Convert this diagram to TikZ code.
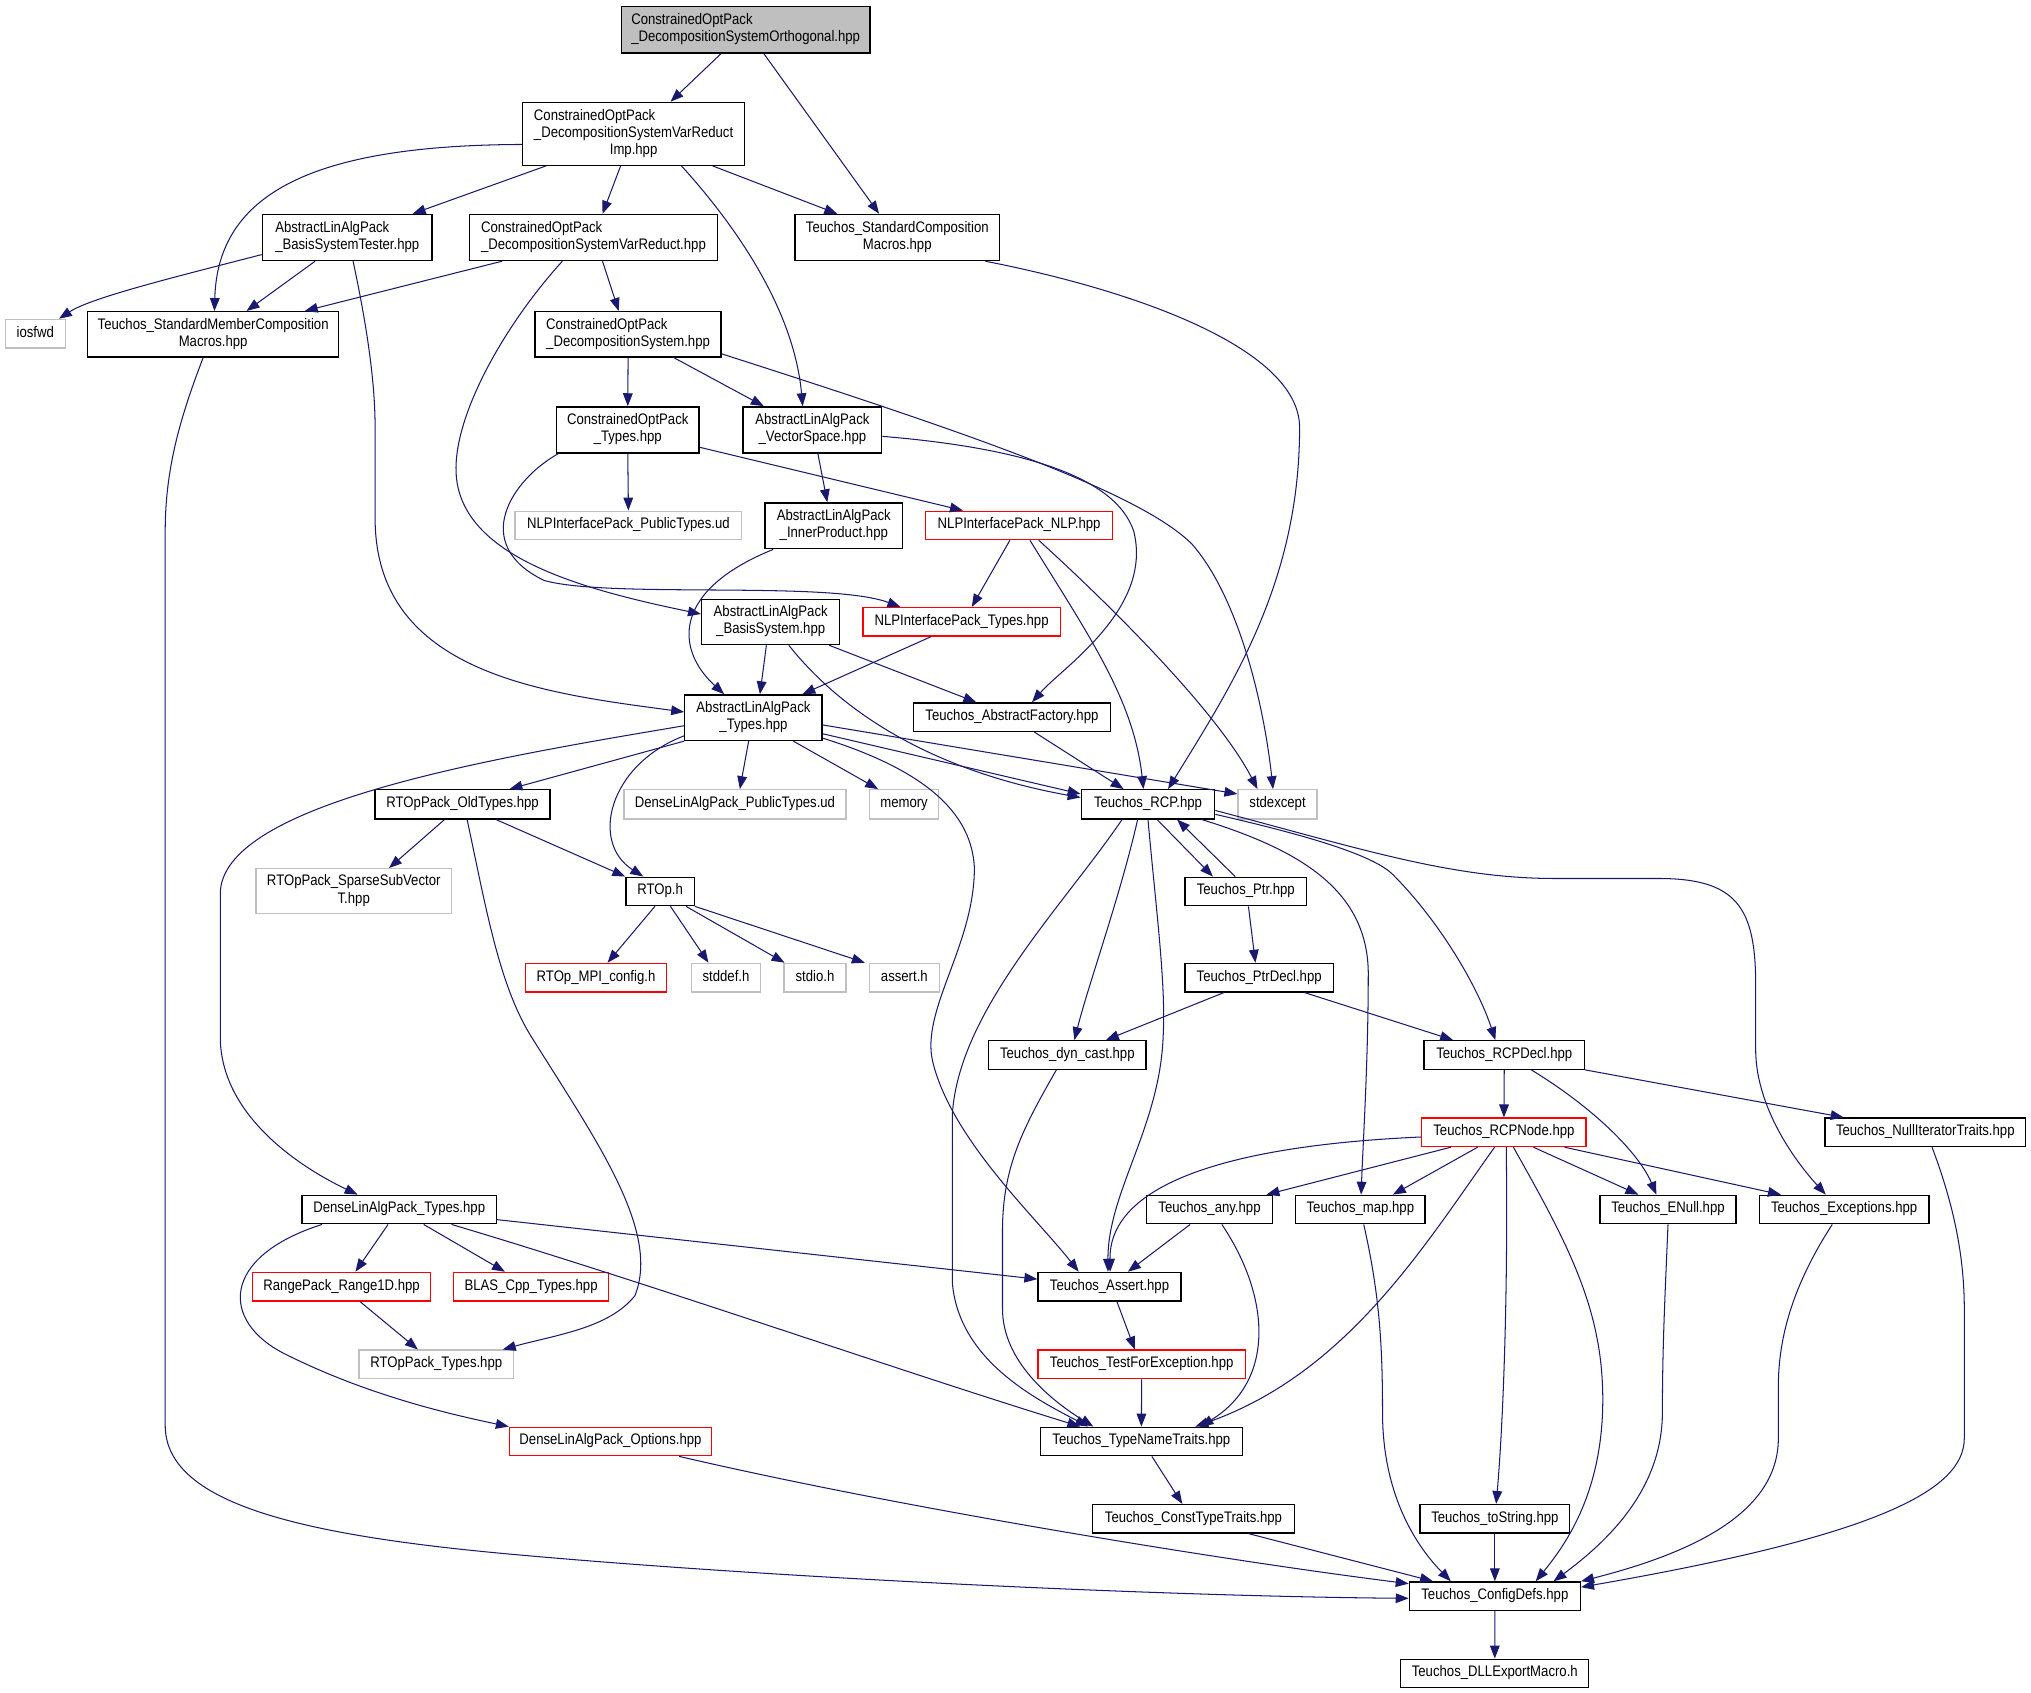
\documentclass[tikz,border=0pt]{standalone}
\usepackage{fontspec}
\setmainfont{Liberation Sans}[FakeStretch=0.86]
\usetikzlibrary{arrows.meta}
\definecolor{edgec}{RGB}{25,25,112}
\definecolor{grayb}{RGB}{192,192,192}
\definecolor{topfill}{RGB}{191,191,191}
\newcommand\twol[2]{\begin{tabular}{@{}l@{}}#1\\\multicolumn{1}{@{}c@{}}{#2}\end{tabular}}
\newcommand\threel[3]{\begin{tabular}{@{}l@{}}#1\\#2\\\multicolumn{1}{@{}c@{}}{#3}\end{tabular}}
\begin{document}
\begin{tikzpicture}[x=1pt,y=-1pt,
  font=\fontsize{11.8pt}{13.2pt}\selectfont,
  bx/.style={draw=black,fill=white,line width=1pt,inner sep=0pt,anchor=north west},
  oneline/.style={text height=9.24pt,text depth=3.96pt,minimum height=22pt},
  gbx/.style={bx,draw=grayb},
  rbx/.style={bx,draw=red},
  topbx/.style={bx,fill=topfill},
  edg/.style={draw=edgec,line width=0.8pt,-{Triangle[length=10pt,width=7.5pt]}}]
\fill[white] (0,0) rectangle (1567.5,1306.6);
\useasboundingbox (0,0) rectangle (1567.5,1306.6);
% nodes
\node[topbx,minimum width=192,minimum height=35.8] (orth) at (479,4.6) {\twol{ConstrainedOptPack}{\_DecompositionSystemOrthogonal.hpp}};
\node[bx,minimum width=171,minimum height=48.5] (vri) at (403,78.5) {\threel{ConstrainedOptPack}{\_DecompositionSystemVarReduct}{Imp.hpp}};
\node[bx,minimum width=131,minimum height=35.6] (bst) at (202,165) {\twol{AbstractLinAlgPack}{\_BasisSystemTester.hpp}};
\node[bx,minimum width=191,minimum height=35.6] (vr) at (362,165) {\twol{ConstrainedOptPack}{\_DecompositionSystemVarReduct.hpp}};
\node[bx,minimum width=158,minimum height=35.6] (stdcomp) at (613,165) {\twol{Teuchos\_StandardComposition}{Macros.hpp}};
\node[gbx,oneline,minimum width=46.5] (iosfwd) at (3.5,246) {iosfwd};
\node[bx,minimum width=194,minimum height=35] (smc) at (67,240) {\twol{Teuchos\_StandardMemberComposition}{Macros.hpp}};
\node[bx,minimum width=143.5,minimum height=35] (ds) at (412.5,240) {\twol{ConstrainedOptPack}{\_DecompositionSystem.hpp}};
\node[bx,minimum width=110,minimum height=35.5] (copt) at (429,313.5) {\twol{ConstrainedOptPack}{\_Types.hpp}};
\node[bx,minimum width=107,minimum height=35.5] (vs) at (573,313.5) {\twol{AbstractLinAlgPack}{\_VectorSpace.hpp}};
\node[gbx,oneline,minimum width=175] (nlppt) at (397,394) {NLPInterfacePack\_PublicTypes.ud};
\node[bx,minimum width=106,minimum height=35.4] (ip) at (590,387.6) {\twol{AbstractLinAlgPack}{\_InnerProduct.hpp}};
\node[rbx,oneline,minimum width=144] (nlp) at (714,394) {NLPInterfacePack\_NLP.hpp};
\node[bx,minimum width=106.6,minimum height=35] (bs) at (541,462) {\twol{AbstractLinAlgPack}{\_BasisSystem.hpp}};
\node[rbx,oneline,minimum width=152.3] (nlpt) at (665.5,468.4) {NLPInterfacePack\_Types.hpp};
\node[bx,minimum width=106,minimum height=35.2] (alapt) at (528,535.8) {\twol{AbstractLinAlgPack}{\_Types.hpp}};
\node[bx,oneline,minimum width=152] (af) at (704.5,542) {Teuchos\_AbstractFactory.hpp};
\node[bx,oneline,minimum width=103,minimum height=22.5] (rcp) at (834,609) {Teuchos\_RCP.hpp};
\node[gbx,oneline,minimum width=61,minimum height=22.5] (stdexc) at (955,609) {stdexcept};
\node[gbx,oneline,minimum width=53.5,minimum height=22.5] (memory) at (670.5,609) {memory};
\node[gbx,oneline,minimum width=171.4,minimum height=22.5] (dlppt) at (481,609) {DenseLinAlgPack\_PublicTypes.ud};
\node[bx,oneline,minimum width=135,minimum height=22.5] (rtopold) at (289,609) {RTOpPack\_OldTypes.hpp};
\node[bx,oneline,minimum width=52.7] (rtoph) at (482.6,676.5) {RTOp.h};
\node[gbx,minimum width=151,minimum height=34.5] (ssv) at (197,670) {\twol{RTOpPack\_SparseSubVector}{T.hpp}};
\node[bx,oneline,minimum width=94] (ptr) at (914,676.5) {Teuchos\_Ptr.hpp};
\node[rbx,oneline,minimum width=109] (mpi) at (405,743) {RTOp\_MPI\_config.h};
\node[gbx,oneline,minimum width=53.6] (stddef) at (533,743) {stddef.h};
\node[gbx,oneline,minimum width=47.8] (stdio) at (604.6,743) {stdio.h};
\node[gbx,oneline,minimum width=53.9] (asserth) at (670.5,743) {assert.h};
\node[bx,oneline,minimum width=114.6] (ptrdecl) at (914,743) {Teuchos\_PtrDecl.hpp};
\node[bx,oneline,minimum width=121.5] (dyncast) at (762.5,802.7) {Teuchos\_dyn\_cast.hpp};
\node[bx,oneline,minimum width=123.7] (rcpdecl) at (1098.6,802.7) {Teuchos\_RCPDecl.hpp};
\node[rbx,oneline,minimum width=126.8] (rcpnode) at (1096.8,862.4) {Teuchos\_RCPNode.hpp};
\node[bx,oneline,minimum width=155] (nullit) at (1407.9,862.4) {Teuchos\_NullIteratorTraits.hpp};
\node[bx,oneline,minimum width=150.2] (dlpt) at (232.5,922) {DenseLinAlgPack\_Types.hpp};
\node[bx,oneline,minimum width=96.8] (any) at (884.6,922) {Teuchos\_any.hpp};
\node[bx,oneline,minimum width=99.6] (map) at (999.6,922) {Teuchos\_map.hpp};
\node[bx,oneline,minimum width=105.1] (enull) at (1234.3,922) {Teuchos\_ENull.hpp};
\node[bx,oneline,minimum width=130.9] (exc) at (1357.3,922) {Teuchos\_Exceptions.hpp};
\node[rbx,oneline,minimum width=137.1] (range) at (194.6,981.5) {RangePack\_Range1D.hpp};
\node[rbx,oneline,minimum width=119.6] (blas) at (349.6,981.5) {BLAS\_Cpp\_Types.hpp};
\node[bx,oneline,minimum width=110.4] (tassert) at (800.6,981.5) {Teuchos\_Assert.hpp};
\node[gbx,oneline,minimum width=119.2] (rtoptypes) at (276.6,1041.5) {RTOpPack\_Types.hpp};
\node[rbx,oneline,minimum width=160] (tfe) at (800.6,1041.5) {Teuchos\_TestForException.hpp};
\node[rbx,oneline,minimum width=155.9] (opts) at (392.7,1101) {DenseLinAlgPack\_Options.hpp};
\node[bx,oneline,minimum width=155.6] (tnt) at (802.6,1101) {Teuchos\_TypeNameTraits.hpp};
\node[bx,oneline,minimum width=155.6] (ctt) at (842.8,1160.7) {Teuchos\_ConstTypeTraits.hpp};
\node[bx,oneline,minimum width=115.4] (tostr) at (1095.5,1160.7) {Teuchos\_toString.hpp};
\node[bx,oneline,minimum width=132] (cfg) at (1087.2,1220.4) {Teuchos\_ConfigDefs.hpp};
\node[bx,oneline,minimum width=145.1] (dll) at (1080.6,1280) {Teuchos\_DLLExportMacro.h};
% edges
\draw[edg] ([xshift=-19pt]orth.south) -- ([xshift=28.5pt]vri.north);
\draw[edg] ([xshift=14pt]orth.south) -- ([xshift=-14pt]stdcomp.north);
\draw[edg] ([yshift=-8.25pt]vri.west) .. controls (240,112) and (168,150) .. ([xshift=1pt]smc.north);
\draw[edg] ([xshift=-67.5pt]vri.south) -- ([xshift=50.5pt]bst.north);
\draw[edg] ([xshift=-10pt]vri.south) -- ([xshift=7pt]vr.north);
\draw[edg] ([xshift=36.9pt]vri.south) .. controls (555,160) and (612,230) .. ([xshift=-7.5pt]vs.north);
\draw[edg] ([xshift=60.9pt]vri.south) -- ([xshift=-46.3pt]stdcomp.north);
\draw[edg] ([xshift=68pt]stdcomp.south) .. controls (880,225) and (1003,270) .. (1003,330) .. controls (1003,450) and (950,530) .. ([xshift=15.5pt]rcp.north);
\draw[edg] ([yshift=-13.2pt]bst.west) .. controls (130,215) and (70,230) .. ([xshift=18.25pt]iosfwd.north);
\draw[edg] ([xshift=-24.8pt]bst.south) -- ([xshift=25.8pt]smc.north);
\draw[edg] ([xshift=4.5pt]bst.south) .. controls (285,260) and (289.5,300) .. (289.5,330) -- (289.5,400) .. controls (289.5,520) and (420,535) .. ([yshift=4.4pt]alapt.west);
\draw[edg] ([xshift=-70.5pt]vr.south) -- ([xshift=70.7pt]smc.north);
\draw[edg] ([xshift=7pt]vr.south) -- ([xshift=-7.25pt]ds.north);
\draw[edg] ([xshift=-24pt]vr.south) .. controls (390,250) and (350,320) .. (352,365) .. controls (355,430) and (450,455) .. ([yshift=6.1pt]bs.west);
\draw[edg] (ds.south) -- (copt.north);
\draw[edg] ([xshift=35.25pt]ds.south) -- ([xshift=-37.5pt]vs.north);
\draw[edg] ([yshift=-15.1pt]ds.east) .. controls (750,335) and (880,380) .. (920,420) .. controls (955,460) and (975,540) .. ([xshift=-3.5pt]stdexc.north);
\draw[edg] (copt.south) -- (nlppt.north);
\draw[edg] ([yshift=-13.45pt]copt.east) -- ([xshift=-43.3pt]nlp.north);
\draw[edg] ([xshift=-53.4pt]copt.south) .. controls (395,370) and (362,420) .. (420,448) .. controls (470,462) and (640,448) .. ([xshift=-47.25pt]nlpt.north);
\draw[edg] ([xshift=4.2pt]vs.south) -- ([xshift=-5pt]ip.north);
\draw[edg] ([yshift=-5pt]vs.east) .. controls (780,345) and (860,365) .. (875,410) .. controls (890,470) and (820,515) .. ([xshift=15.5pt]af.north);
\draw[edg] ([xshift=-46.7pt]ip.south) .. controls (520,455) and (520,500) .. ([xshift=-22.6pt]alapt.north);
\draw[edg] ([xshift=-7.1pt]nlp.south) -- ([xshift=7.85pt]nlpt.north);
\draw[edg] ([xshift=8.4pt]nlp.south) .. controls (840,490) and (875,540) .. ([xshift=-3.5pt]rcp.north);
\draw[edg] ([xshift=15.2pt]nlp.south) .. controls (860,470) and (940,550) .. ([xshift=-15.5pt]stdexc.north);
\draw[edg] ([xshift=-3.3pt]bs.south) -- ([xshift=5pt]alapt.north);
\draw[edg] ([xshift=45.1pt]bs.south) -- ([xshift=-27.5pt]af.north);
\draw[edg] ([xshift=14pt]bs.south) .. controls (650,550) and (720,595) .. ([yshift=5.25pt]rcp.west);
\draw[edg] ([xshift=-23.65pt]nlpt.south) -- ([xshift=37.7pt]alapt.north);
\draw[edg] ([yshift=-6.2pt]alapt.west) .. controls (380,585) and (170,620) .. (170,690) -- (170,800) .. controls (170,860) and (230,900) .. ([xshift=-32.1pt]dlpt.north);
\draw[edg] (alapt.south west) -- ([xshift=36.2pt]rtopold.north);
\draw[edg] ([yshift=-14pt]alapt.west) .. controls (470,590) and (455,650) .. ([xshift=-13pt]rtoph.north);
\draw[edg] ([xshift=-3.7pt]alapt.south) -- ([xshift=3.8pt]dlppt.north);
\draw[edg] ([xshift=30.8pt]alapt.south) -- ([xshift=-20pt]memory.north);
\draw[edg] ([yshift=-15.8pt]alapt.east) .. controls (700,590) and (750,620) .. (752,670) .. controls (752,730) and (710,780) .. (720,820) .. controls (735,880) and (800,940) .. ([xshift=-23.8pt]tassert.north);
\draw[edg] ([yshift=-12.4pt]alapt.east) -- ([yshift=8pt]rcp.west);
\draw[edg] ([yshift=-5.6pt]alapt.east) -- ([yshift=8pt]stdexc.west);
\draw[edg] ([xshift=-13.9pt]rtopold.south) -- ([xshift=27.2pt]ssv.north);
\draw[edg] ([xshift=25.8pt]rtopold.south) -- (rtoph.north west);
\draw[edg] ([xshift=3.5pt]rtopold.south) .. controls (375,700) and (385,760) .. (410,800) .. controls (460,880) and (510,950) .. (490,1000) .. controls (470,1025) and (430,1030) .. ([xshift=51.3pt]rtoptypes.north);
\draw[edg] ([xshift=-4pt]rtoph.south) -- ([xshift=8.9pt]mpi.north);
\draw[edg] ([xshift=8pt]rtoph.south) -- ([xshift=-13.5pt]stddef.north);
\draw[edg] ([xshift=20pt]rtoph.south) -- ([xshift=-23.5pt]stdio.north);
\draw[edg] (rtoph.south east) -- ([xshift=-3pt]asserth.north west);
\draw[edg] ([xshift=7pt]rcp.south) -- ([xshift=-25.4pt]ptr.north);
\draw[edg] ([xshift=-8.2pt]ptr.north) -- ([xshift=22.5pt]rcp.south);
\draw[edg] ([xshift=2pt]ptr.south) -- ([xshift=-2.9pt]ptrdecl.north);
\draw[edg] ([xshift=-8pt]rcp.south) .. controls (865,690) and (840,760) .. ([xshift=5.45pt]dyncast.north);
\draw[edg] (rcp.south) .. controls (892,700) and (900,760) .. (897.7,800) .. controls (895,870) and (855,920) .. ([xshift=-1.2pt]tassert.north);
\draw[edg] ([xshift=-20pt]rcp.south) .. controls (820,700) and (740,780) .. (735,860) -- (735,990) .. controls (740,1050) and (800,1080) .. ([xshift=-41pt]tnt.north);
\draw[edg] ([xshift=41.5pt]rcp.south) .. controls (1000,655) and (1055,685) .. (1056,750) .. controls (1056,820) and (1052,880) .. ([xshift=0.6pt]map.north);
\draw[edg] ([yshift=-7.75pt]rcp.east) .. controls (1010,645) and (1060,660) .. (1075,675) .. controls (1110,710) and (1140,760) .. ([xshift=-6.85pt]rcpdecl.north);
\draw[edg] ([yshift=-4.75pt]rcp.east) .. controls (1050,655) and (1120,678) .. (1200,678) -- (1280,678) .. controls (1340,678) and (1355,700) .. (1355,760) -- (1355,810) .. controls (1355,850) and (1380,890) .. ([xshift=-14.15pt]exc.north);
\draw[edg] ([xshift=-27.1pt]ptrdecl.south) -- ([xshift=29.75pt]dyncast.north);
\draw[edg] ([xshift=34.9pt]ptrdecl.south) -- ([xshift=-39.45pt]rcpdecl.north);
\draw[edg] (rcpdecl.south) -- (rcpnode.north);
\draw[edg] ([xshift=20.85pt]rcpdecl.south) .. controls (1230,855) and (1265,890) .. ([xshift=-9pt]enull.north);
\draw[edg] (rcpdecl.south east) -- ([xshift=-63pt]nullit.north);
\draw[edg] ([xshift=-8.45pt]dyncast.south) .. controls (790,870) and (773.7,900) .. (773.7,950) -- (773.7,1010) .. controls (773.7,1050) and (810,1080) .. ([xshift=-37.1pt]tnt.north);
\draw[edg] ([yshift=-3.6pt]rcpnode.west) .. controls (930,885) and (856,920) .. ([xshift=0.5pt]tassert.north);
\draw[edg] ([xshift=-41pt]rcpnode.south) -- ([xshift=43.9pt]any.north);
\draw[edg] ([xshift=-20.3pt]rcpnode.south) -- ([xshift=25.1pt]map.north);
\draw[edg] ([xshift=-7.2pt]rcpnode.south) .. controls (1100,960) and (1040,1060) .. ([xshift=41.6pt]tnt.north);
\draw[edg] ([xshift=1.8pt]rcpnode.south) .. controls (1164,1000) and (1160,1100) .. ([xshift=1pt]tostr.north);
\draw[edg] ([xshift=7.3pt]rcpnode.south) .. controls (1210,960) and (1237,1010) .. (1237,1080) .. controls (1237,1150) and (1210,1190) .. ([xshift=31.5pt]cfg.north);
\draw[edg] ([xshift=22.8pt]rcpnode.south) -- ([xshift=-22.85pt]enull.north);
\draw[edg] ([xshift=46.8pt]rcpnode.south) -- ([xshift=-48.75pt]exc.north);
\draw[edg] ([xshift=-15pt]any.south) -- ([xshift=14.2pt]tassert.north);
\draw[edg] ([xshift=9.5pt]any.south) .. controls (980,1000) and (985,1065) .. ([xshift=45.6pt]tnt.north);
\draw[edg] ([xshift=5.7pt]tassert.south) -- ([xshift=-5.3pt]tfe.north);
\draw[edg] (tfe.south) -- (tnt.north);
\draw[edg] ([xshift=8.1pt]tnt.south) -- ([xshift=-8.6pt]ctt.north);
\draw[edg] ([xshift=42.8pt]ctt.south) -- ([xshift=-47.7pt]cfg.north);
\draw[edg] ([xshift=53pt]opts.south) .. controls (700,1165) and (950,1205) .. ([yshift=9.65pt]cfg.west);
\draw[edg] ([xshift=-7.7pt]smc.south) .. controls (140,320) and (127.5,360) .. (127.5,410) -- (127.5,1100) .. controls (127.5,1160) and (230,1185) .. (400,1200) .. controls (600,1218) and (900,1232) .. ([yshift=-1.65pt]cfg.west);
\draw[edg] ([xshift=2.6pt]map.south) .. controls (1065,1000) and (1067,1040) .. (1067,1090) .. controls (1067,1150) and (1090,1190) .. ([xshift=-34pt]cfg.north);
\draw[edg] (tostr.south) -- (cfg.north);
\draw[edg] (enull.south) .. controls (1285,1000) and (1283,1040) .. (1283,1090) .. controls (1283,1150) and (1240,1190) .. ([xshift=45.3pt]cfg.north);
\draw[edg] ([xshift=-9.15pt]exc.south) .. controls (1385,990) and (1372.5,1030) .. (1372.5,1070) -- (1372.5,1110) .. controls (1372.5,1170) and (1300,1200) .. (cfg.north east);
\draw[edg] ([xshift=5.2pt]nullit.south) .. controls (1508,930) and (1516,970) .. (1516,1010) -- (1516,1110) .. controls (1516,1150) and (1450,1185) .. ([yshift=7pt]cfg.east);
\draw[edg] (cfg.south) -- (dll.north);
\draw[edg] ([xshift=-8.6pt]dlpt.south) -- ([xshift=10.65pt]range.north);
\draw[edg] ([xshift=18.9pt]dlpt.south) -- ([xshift=-20.2pt]blas.north);
\draw[edg] ([yshift=-7.8pt]dlpt.east) -- ([yshift=5.8pt]tassert.west);
\draw[edg] ([xshift=40.4pt]dlpt.south) .. controls (500,990) and (700,1060) .. ([xshift=-47.1pt]tnt.north);
\draw[edg] ([xshift=-59.6pt]dlpt.south) .. controls (170,970) and (170,1020) .. (220,1045) .. controls (280,1075) and (340,1090) .. (opts.north west);
\draw[edg] ([xshift=14.15pt]range.south) -- ([xshift=-14.2pt]rtoptypes.north);
\draw[edg] ([xshift=17.3pt]af.south) -- ([xshift=-18.8pt]rcp.north);
\end{tikzpicture}
\end{document}
